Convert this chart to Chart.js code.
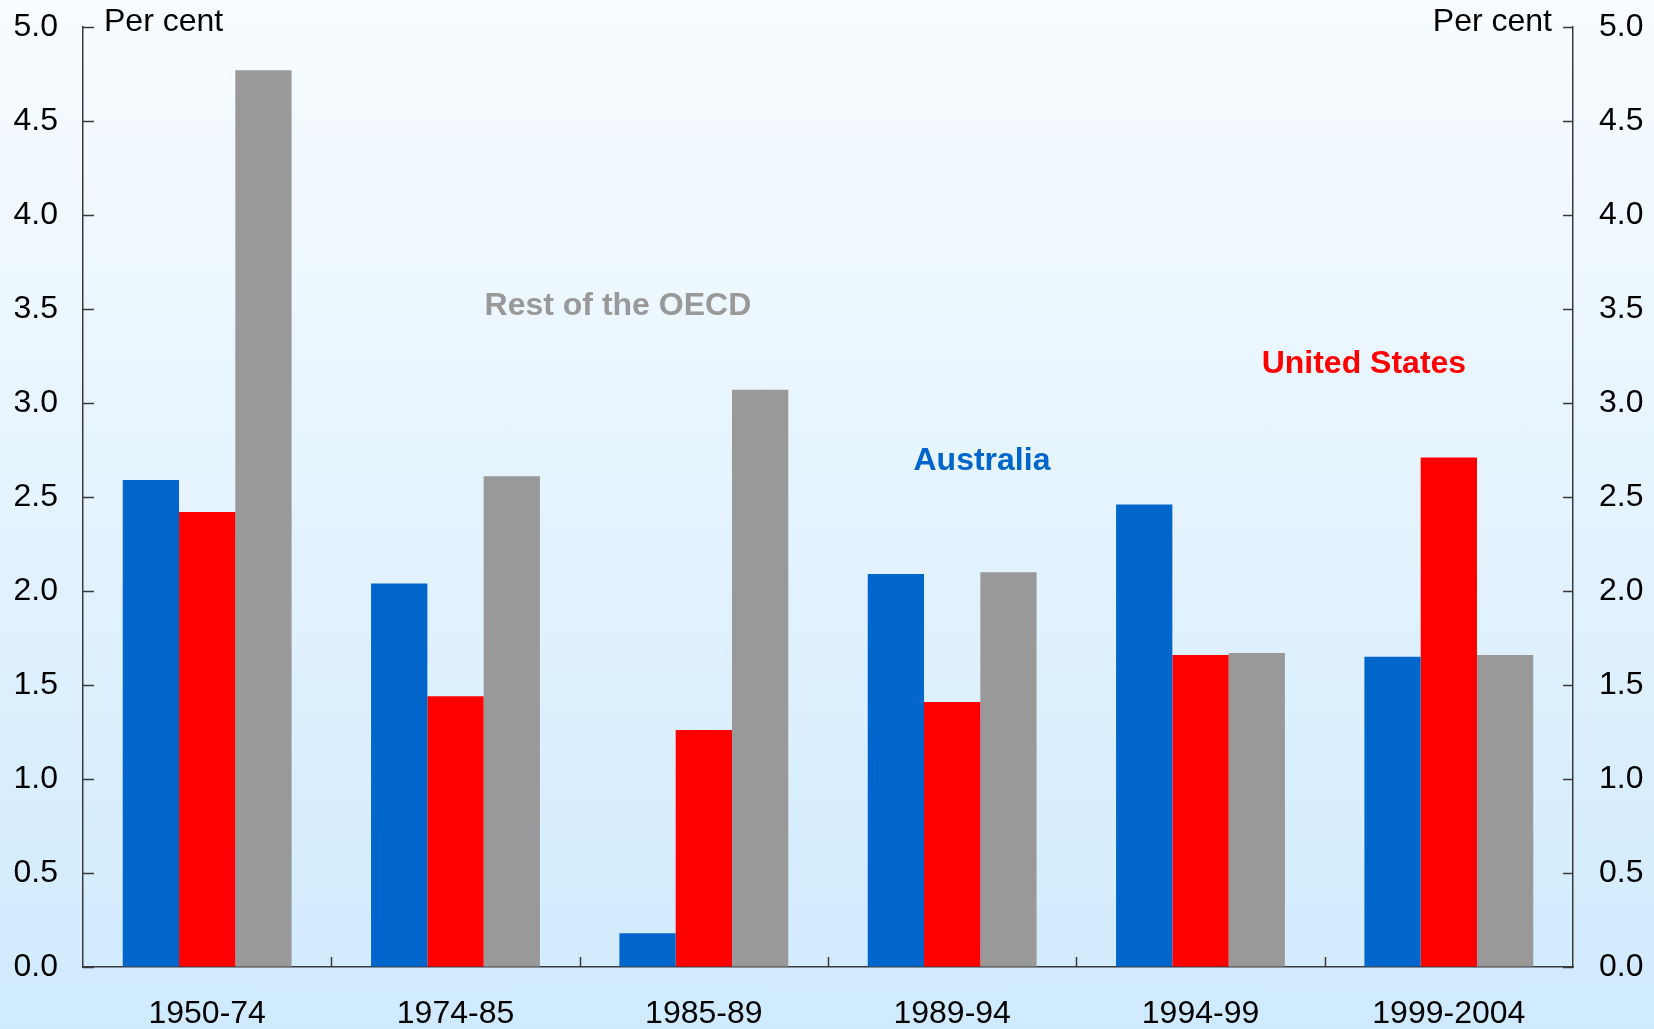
<!DOCTYPE html>
<html>
<head>
<meta charset="utf-8">
<script src="https://cdn.jsdelivr.net/npm/chart.js@4.4.1/dist/chart.umd.min.js"></script>
<style>
  html, body { margin: 0; padding: 0; }
  body { width: 1654px; height: 1029px; overflow: hidden;
         background: linear-gradient(to bottom, #f8fcff 0%, #e6f4fe 45%, #cfeafd 100%); }
  #wrap { position: relative; width: 1654px; height: 1029px; }
</style>
</head>
<body>
<div id="wrap"><canvas id="growth"></canvas></div>
<script>
// Periods and average annual growth, per cent
const periods = ['1950-74', '1974-85', '1985-89', '1989-94', '1994-99', '1999-2004'];
const australia = [2.59, 2.04, 0.18, 2.09, 2.46, 1.65];
const unitedStates = [2.42, 1.44, 1.26, 1.41, 1.66, 2.71];
const restOfOecd = [4.77, 2.61, 3.07, 2.10, 1.67, 1.66];
const yTicks = [0, 0.5, 1, 1.5, 2, 2.5, 3, 3.5, 4, 4.5, 5];

const FONT = '"Liberation Sans", Arial, Helvetica, sans-serif';
const AXIS = '#3a3a3a';

// Series names placed inside the plot, in data units (category index, per cent)
const seriesLabels = [
    { text: 'Rest of the OECD', x: 1.654, y: 3.515, color: '#999999' },
    { text: 'Australia', x: 3.12, y: 2.69, color: '#0066cc' },
    { text: 'United States', x: 4.658, y: 3.204, color: '#ff0000' }
];

// Short inward tick marks, "Per cent" captions and series names
const decorations = {
    id: 'decorations',
    afterDraw(chart) {
        const ctx = chart.ctx;
        const area = chart.chartArea;
        const x = chart.scales.x, y = chart.scales.y;
        ctx.save();
        ctx.strokeStyle = AXIS;
        ctx.lineWidth = 1.5;
        ctx.beginPath();
        yTicks.forEach(v => {
            const py = Math.round(y.getPixelForValue(v)) + 0.5;
            ctx.moveTo(area.left, py); ctx.lineTo(area.left + 11, py);
            ctx.moveTo(area.right, py); ctx.lineTo(area.right - 10, py);
        });
        for (let i = 1; i < periods.length; i++) {
            const px = Math.round(x.getPixelForValue(i - 0.5)) + 0.5;
            ctx.moveTo(px, area.bottom); ctx.lineTo(px, area.bottom - 10);
        }
        ctx.stroke();

        ctx.fillStyle = '#000';
        ctx.font = '32px ' + FONT;
        ctx.textBaseline = 'middle';
        ctx.textAlign = 'left';
        ctx.fillText('Per cent', area.left + 21, 22);
        ctx.textAlign = 'right';
        ctx.fillText('Per cent', area.right - 21, 22);

        ctx.font = 'bold 32px ' + FONT;
        ctx.textAlign = 'center';
        seriesLabels.forEach(l => {
            ctx.fillStyle = l.color;
            ctx.fillText(l.text, x.getPixelForValue(l.x), y.getPixelForValue(l.y));
        });
        ctx.restore();
    }
};

function fixWidth(w) {
    return scale => {
        scale.width = w;
        scale.paddingTop = 0;
        scale.paddingBottom = 0;
    };
}

const ctx = document.getElementById('growth').getContext('2d');
new Chart(ctx, {
    type: 'bar',
    data: {
        labels: periods,
        datasets: [
            { label: 'Australia', data: australia, backgroundColor: '#0066cc' },
            { label: 'United States', data: unitedStates, backgroundColor: '#ff0000' },
            { label: 'Rest of the OECD', data: restOfOecd, backgroundColor: '#999999' }
        ]
    },
    options: {
        responsive: true,
        maintainAspectRatio: false,
        animation: false,
        layout: { padding: { top: 27, left: 0, right: 0, bottom: 0 } },
        datasets: { bar: { categoryPercentage: 0.68, barPercentage: 1.0, borderWidth: 0 } },
        plugins: { legend: { display: false }, tooltip: { enabled: false } },
        scales: {
            x: {
                grid: { display: false, drawTicks: false },
                border: { display: true, color: AXIS, width: 1.5 },
                ticks: { color: '#000', font: { family: FONT, size: 32 }, padding: 28, maxRotation: 0 },
                afterFit(scale) { scale.height = 62; }
            },
            y: {
                position: 'left',
                min: 0, max: 5,
                afterBuildTicks(scale) { scale.ticks = yTicks.map(v => ({ value: v })); },
                grid: { drawOnChartArea: false, drawTicks: false },
                border: { display: true, color: AXIS, width: 1.5 },
                ticks: { color: '#000', font: { family: FONT, size: 32 }, padding: 25,
                         callback: v => v.toFixed(1) },
                afterFit: fixWidth(83)
            },
            y2: {
                position: 'right',
                display: true,
                min: 0, max: 5,
                afterBuildTicks(scale) { scale.ticks = yTicks.map(v => ({ value: v })); },
                grid: { drawOnChartArea: false, drawTicks: false },
                border: { display: true, color: AXIS, width: 1.5 },
                ticks: { color: '#000', font: { family: FONT, size: 32 }, padding: 26,
                         callback: v => v.toFixed(1) },
                afterFit: fixWidth(81)
            }
        }
    },
    plugins: [decorations]
});
</script>
</body>
</html>
